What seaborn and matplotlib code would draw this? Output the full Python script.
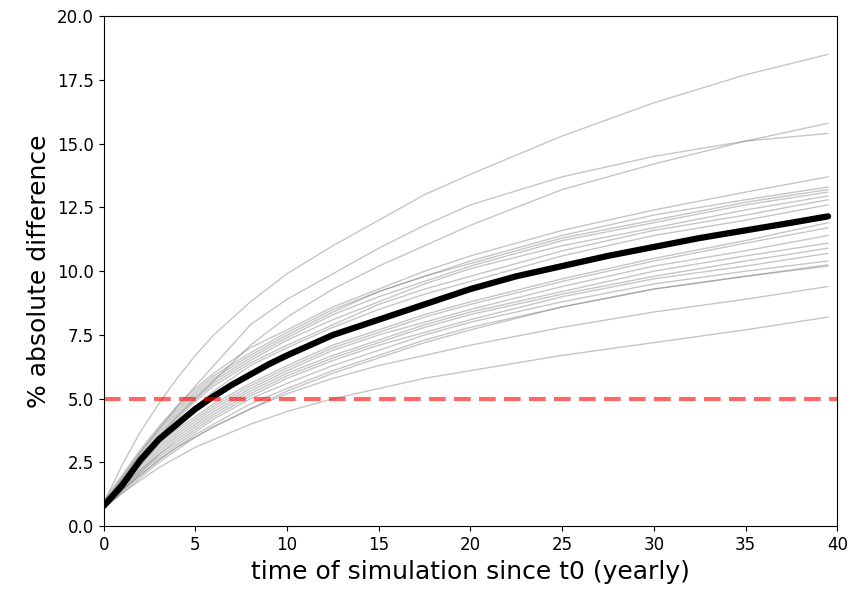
import pandas as pd
import matplotlib
matplotlib.use("Agg")
import matplotlib.pyplot as plt
import seaborn as sns

sns.set_style("ticks")
plt.rcParams['font.family'] = ['DejaVu Sans']
plt.rcParams.update({
    'text.color': 'black',
    'axes.labelcolor': 'black',
    'axes.edgecolor': 'black',
    'xtick.color': 'black',
    'ytick.color': 'black',
})

# --------------------------------
# Data
# --------------------------------
years = [0, 1, 2, 3, 4, 5, 6, 8, 10, 12.5, 15, 17.5, 20, 25, 30, 35, 39.5]

run_a = [0.9, 2.4, 3.7, 4.8, 5.8, 6.7, 7.5, 8.8, 9.9, 11.0, 12.0, 13.0, 13.8, 15.3, 16.6, 17.7, 18.5]
run_b1 = [0.9, 1.9, 2.9, 3.8, 4.7, 5.5, 6.3, 7.9, 8.9, 9.9, 10.9, 11.8, 12.6, 13.7, 14.5, 15.1, 15.4]
run_b2 = [0.9, 1.8, 2.7, 3.5, 4.3, 5.0, 5.7, 7.1, 8.2, 9.3, 10.2, 11.0, 11.8, 13.2, 14.2, 15.1, 15.8]

run_u1 = [1.0, 2.0, 3.0, 3.9, 4.7, 5.4, 6.0, 7.0, 7.7, 8.6, 9.3, 10.0, 10.6, 11.6, 12.4, 13.1, 13.7]
run_u2 = [0.9, 1.9, 2.9, 3.8, 4.6, 5.3, 5.9, 6.8, 7.6, 8.5, 9.2, 9.8, 10.4, 11.4, 12.2, 12.8, 13.3]
run_u3 = [0.9, 1.8, 2.8, 3.7, 4.5, 5.2, 5.8, 6.7, 7.5, 8.4, 9.2, 9.8, 10.3, 11.3, 12.0, 12.7, 13.2]
run_u4 = [0.8, 1.8, 2.7, 3.6, 4.4, 5.1, 5.7, 6.6, 7.4, 8.3, 9.0, 9.6, 10.2, 11.2, 11.9, 12.6, 13.1]
run_u5 = [0.8, 1.7, 2.6, 3.5, 4.3, 5.0, 5.6, 6.5, 7.3, 8.1, 8.8, 9.5, 10.1, 11.0, 11.7, 12.4, 12.95]
run_u6 = [0.8, 1.7, 2.6, 3.4, 4.2, 4.9, 5.5, 6.4, 7.1, 7.9, 8.7, 9.3, 9.8, 10.8, 11.6, 12.2, 12.8]
run_u7 = [0.8, 1.6, 2.5, 3.3, 4.0, 4.7, 5.3, 6.3, 7.0, 7.8, 8.5, 9.1, 9.6, 10.6, 11.4, 12.0, 12.6]

run_d1 = [0.8, 1.6, 2.4, 3.2, 3.8, 4.3, 4.8, 5.6, 6.3, 7.1, 7.7, 8.3, 8.8, 9.7, 10.5, 11.2, 11.9]
run_d2 = [0.8, 1.6, 2.4, 3.1, 3.7, 4.2, 4.7, 5.5, 6.2, 7.0, 7.6, 8.2, 8.7, 9.6, 10.4, 11.1, 11.7]
run_d3 = [0.8, 1.5, 2.3, 3.0, 3.6, 4.1, 4.6, 5.4, 6.1, 6.9, 7.5, 8.0, 8.5, 9.4, 10.2, 10.8, 11.4]
run_d4 = [0.7, 1.5, 2.2, 2.9, 3.5, 4.0, 4.5, 5.3, 6.0, 6.7, 7.3, 7.9, 8.4, 9.2, 10.0, 10.6, 11.1]
run_d5 = [0.7, 1.5, 2.2, 2.8, 3.4, 3.9, 4.4, 5.2, 5.9, 6.6, 7.2, 7.8, 8.3, 9.1, 9.8, 10.4, 10.9]
run_d6 = [0.7, 1.4, 2.1, 2.8, 3.3, 3.8, 4.3, 5.1, 5.8, 6.5, 7.1, 7.6, 8.1, 9.0, 9.7, 10.2, 10.7]
run_d7 = [0.7, 1.4, 2.1, 2.7, 3.2, 3.7, 4.2, 5.0, 5.6, 6.3, 6.9, 7.5, 8.0, 8.8, 9.5, 10.0, 10.4]
run_d8 = [0.7, 1.4, 2.0, 2.6, 3.1, 3.6, 4.0, 4.8, 5.4, 6.1, 6.7, 7.3, 7.8, 8.6, 9.3, 9.8, 10.2]
run_d9 = [0.7, 1.3, 1.9, 2.5, 3.0, 3.5, 3.9, 4.6, 5.3, 6.0, 6.6, 7.2, 7.7, 8.6, 9.3, 9.8, 10.25]

run_l2 = [0.8, 1.4, 2.0, 2.6, 3.1, 3.5, 3.9, 4.6, 5.2, 5.8, 6.3, 6.7, 7.1, 7.8, 8.4, 8.9, 9.4]
run_l1 = [0.7, 1.3, 1.8, 2.3, 2.7, 3.1, 3.4, 4.0, 4.5, 5.0, 5.4, 5.8, 6.1, 6.7, 7.2, 7.7, 8.2]

runs = [run_a, run_b1, run_b2,
        run_u1, run_u2, run_u3, run_u4, run_u5, run_u6, run_u7,
        run_d1, run_d2, run_d3, run_d4, run_d5, run_d6, run_d7, run_d8, run_d9,
        run_l2, run_l1]

mean_years = [0, 0.5, 1, 1.5, 2, 2.5, 3, 4, 5, 6, 7, 8, 9, 10, 12.5, 15, 17.5,
              20, 22.5, 25, 27.5, 30, 32.5, 35, 37.5, 39.5]
mean_diff = [0.8, 1.2, 1.6, 2.1, 2.6, 3.0, 3.4, 4.0, 4.6, 5.1, 5.55, 5.95, 6.35,
             6.7, 7.5, 8.1, 8.7, 9.3, 9.8, 10.2, 10.6, 10.95, 11.3, 11.6, 11.9, 12.15]

threshold = 5.0

# long table for seaborn
rows = []
for i, r in enumerate(runs):
    for t, v in zip(years, r):
        rows.append({'run': i, 'year': t, 'diff': v})
df = pd.DataFrame(rows)

# --------------------------------
# Plot
# --------------------------------
fig, ax = plt.subplots(figsize=(8.5, 5.96), dpi=100)
fig.subplots_adjust(left=0.122, right=0.985, top=0.973, bottom=0.117)

sns.lineplot(data=df, x='year', y='diff', units='run', estimator=None,
             color='grey', alpha=0.45, linewidth=1, ax=ax)
sns.lineplot(x=mean_years, y=mean_diff, color='black', linewidth=4.5, ax=ax)
ax.axhline(threshold, color='red', alpha=0.6, linewidth=3, dashes=(4, 2))

ax.set_xlim(0, 40)
ax.set_ylim(0, 20)
ax.set_xticks(range(0, 41, 5))
ax.set_yticks([0, 2.5, 5, 7.5, 10, 12.5, 15, 17.5, 20])
ax.set_yticklabels([f"{v:.1f}" for v in ax.get_yticks()])
ax.tick_params(labelsize=12)

ax.set_xlabel("time of simulation since t0 (yearly)", fontsize=18)
ax.set_ylabel("% absolute difference", fontsize=18)

plt.savefig("out.png", dpi=100)
